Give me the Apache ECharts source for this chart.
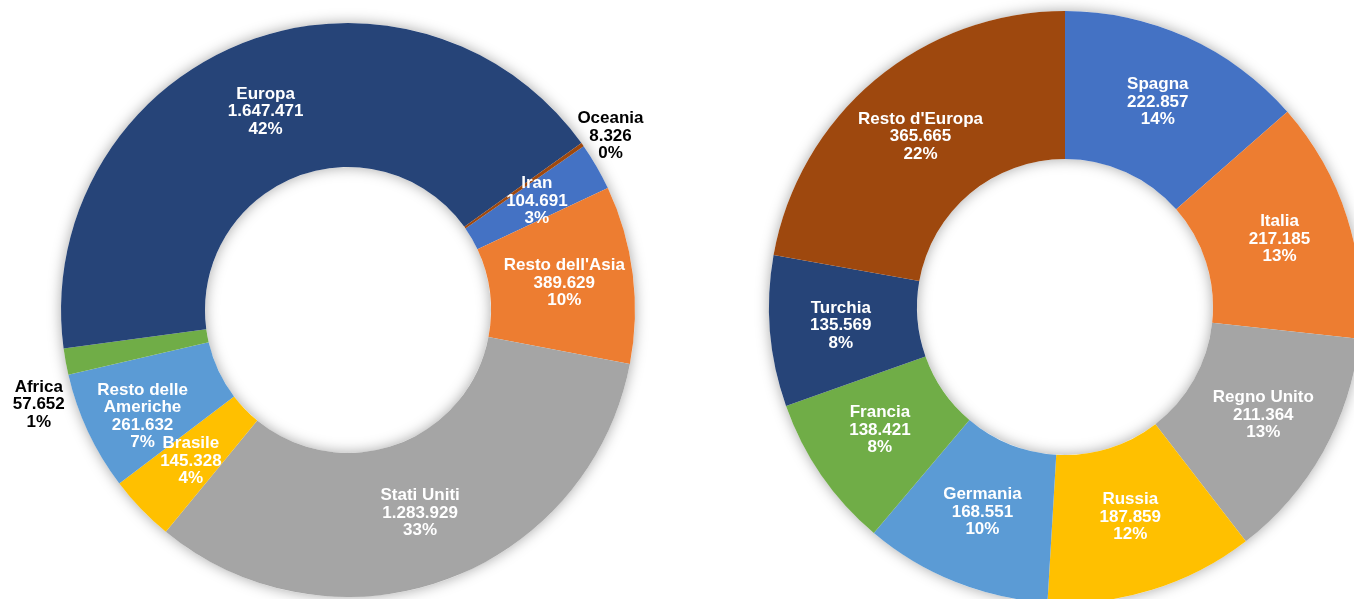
<!DOCTYPE html>
<html>
<head>
<meta charset="utf-8">
<script src="https://cdn.jsdelivr.net/npm/echarts@6/dist/echarts.min.js"></script>
<style>
  html, body { margin: 0; padding: 0; background: #fff; }
  #chart { width: 1354px; height: 599px; }
</style>
</head>
<body>
<div id="chart"></div>
<script>
// mondo (anello di sinistra)
const worldNames = ['Iran', "Resto dell'Asia", 'Stati Uniti', 'Brasile', 'Resto delle Americhe', 'Africa', 'Europa', 'Oceania'];
const worldValues = [104691, 389629, 1283929, 145328, 261632, 57652, 1647471, 8326];
const worldOutside = ['Africa', 'Oceania'];

// dettaglio Europa (anello di destra)
const europeNames = ['Spagna', 'Italia', 'Regno Unito', 'Russia', 'Germania', 'Francia', 'Turchia', "Resto d'Europa"];
const europeValues = [222857, 217185, 211364, 187859, 168551, 138421, 135569, 365665];

const palette = ['#4472C4', '#ED7D31', '#A5A5A5', '#FFC000', '#5B9BD5', '#70AD47', '#264478', '#9E480E'];
const font = '"Liberation Sans", Arial, sans-serif';

// piccoli spostamenti delle etichette, come in Excel
const nudges = {
  'Oceania': [18, -5],
  'Africa': [-16, 42],
  'Resto delle Americhe': [-8, 14],
  'Europa': [-2, 4],
  'Stati Uniti': [-2, -2],
  'Russia': [-1, -5],
  'Germania': [1, -4],
  'Francia': [0, -5],
  'Regno Unito': [2, -2],
  "Resto d'Europa": [0, 2]
};

function fmt(v) {
  return String(v).replace(/\B(?=(\d{3})+(?!\d))/g, '.');
}

function labelText(p) {
  return p.name.replace('delle ', 'delle\n') + '\n' + fmt(p.value) + '\n' + p.percent + '%';
}

function makeData(names, values, outside) {
  return names.map((n, i) => {
    const item = { name: n, value: values[i] };
    if (outside && outside.indexOf(n) >= 0) {
      item.label = { position: 'outside', color: '#000' };
      item.labelLine = { show: false, length: 6, length2: 0 };
    } else {
      // non nascondere le etichette piu larghe della fetta
      item.label = { width: 20, overflow: 'none' };
    }
    return item;
  });
}

// anello bianco sotto, solo per l'ombra
function shadowRing(center, radius) {
  return {
    type: 'pie', silent: true, z: 1,
    center: center, radius: radius,
    label: { show: false }, labelLine: { show: false },
    itemStyle: { color: '#fff', shadowBlur: 14, shadowColor: 'rgba(0,0,0,0.35)' },
    data: [{ value: 1, name: '' }]
  };
}

function ring(center, radius, startAngle, data) {
  return {
    type: 'pie', z: 2,
    center: center, radius: radius,
    startAngle: startAngle,
    clockwise: true,
    percentPrecision: 0,
    avoidLabelOverlap: false,
    itemStyle: { borderWidth: 0 },
    label: {
      show: true,
      position: 'inside',
      formatter: labelText,
      color: '#fff',
      fontFamily: font,
      fontWeight: 'bold',
      fontSize: 17,
      lineHeight: 17.5,
      align: 'center'
    },
    labelLine: { show: false },
    labelLayout: function (p) {
      const name = data[p.dataIndex].name;
      const n = nudges[name];
      if (!n) return {};
      return { dx: n[0], dy: n[1], align: 'center' };
    },
    emphasis: { disabled: true },
    data: data
  };
}

const chart = echarts.init(document.getElementById('chart'), null, { renderer: 'canvas' });
chart.setOption({
  animation: false,
  color: palette,
  series: [
    shadowRing([348, 310], [143, 287]),
    ring([348, 310], [143, 287], 34.8, makeData(worldNames, worldValues, worldOutside)),
    shadowRing([1065, 307], [148, 296]),
    ring([1065, 307], [148, 296], 90, makeData(europeNames, europeValues))
  ]
});
</script>
</body>
</html>
